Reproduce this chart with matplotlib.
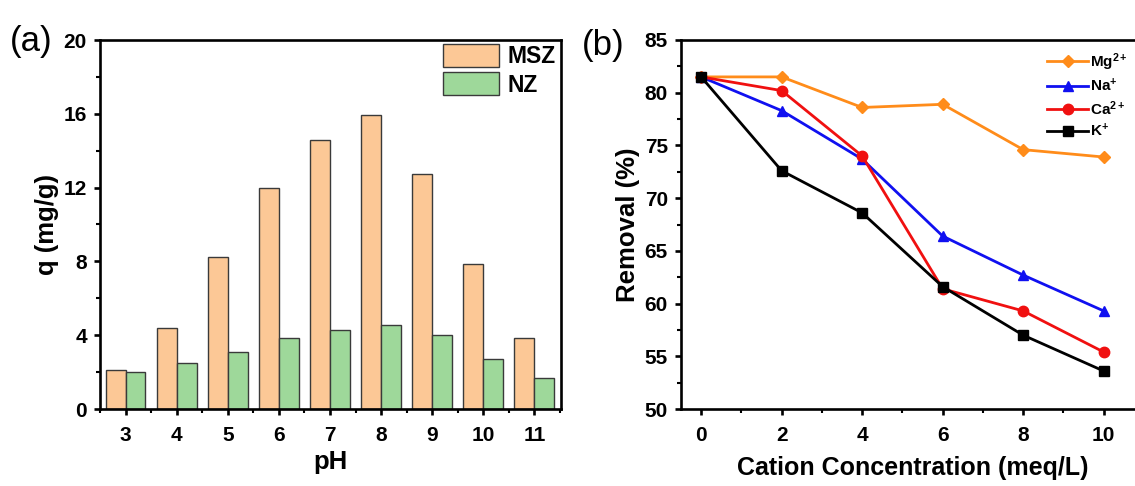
import matplotlib
matplotlib.use("Agg")
import matplotlib.pyplot as plt
import numpy as np
from matplotlib.ticker import MultipleLocator

plt.rcParams['font.family'] = ['Liberation Sans', 'DejaVu Sans']
plt.rcParams['font.weight'] = 'bold'
plt.rcParams['mathtext.fontset'] = 'custom'
plt.rcParams['mathtext.rm'] = 'Liberation Sans:bold'
plt.rcParams['mathtext.bf'] = 'Liberation Sans:bold'
plt.rcParams['mathtext.it'] = 'Liberation Sans:bold'

# Panel (a) data
ph = [3, 4, 5, 6, 7, 8, 9, 10, 11]
q_msz = [2.1, 4.4, 8.25, 12.0, 14.6, 15.95, 12.75, 7.85, 3.85]
q_nz = [2.0, 2.5, 3.1, 3.85, 4.3, 4.55, 4.0, 2.7, 1.7]

# Panel (b) data
conc = [0, 2, 4, 6, 8, 10]
mg = [81.5, 81.5, 78.6, 78.9, 74.6, 73.9]
na = [81.5, 78.3, 73.7, 66.4, 62.7, 59.3]
ca = [81.5, 80.2, 74.0, 61.4, 59.3, 55.4]
k = [81.5, 72.6, 68.6, 61.6, 57.0, 53.6]

W, H = 1135, 486
fig = plt.figure(figsize=(W / 100, H / 100), dpi=100)

TICK_FS = 15
LABEL_FS = 18.5

def style_axes(ax):
    for s in ax.spines.values():
        s.set_linewidth(1.9)
    ax.tick_params(which='major', direction='out', length=4.5, width=1.9, labelsize=TICK_FS)
    ax.tick_params(axis='x', which='major', pad=7.5)
    ax.tick_params(axis='y', which='major', pad=5)
    ax.tick_params(which='minor', direction='out', length=2.8, width=1.5)
    ax.tick_params(axis='both', which='both', top=False, right=False)

# ---- Panel (a)
ax1 = fig.add_axes([100 / W, 1 - 409 / H, 461 / W, 369 / H])
x = np.array(ph, dtype=float)
w = 0.39
ax1.bar(x - w/2, q_msz, width=w, color='#FCC896', edgecolor='#3a3a3a', linewidth=1.0, label='MSZ')
ax1.bar(x + w/2, q_nz, width=w, color='#9ED89A', edgecolor='#3a3a3a', linewidth=1.0, label='NZ')
ax1.set_xlim(2.5, 11.52)
ax1.set_ylim(0, 20)
ax1.set_xticks(ph)
ax1.xaxis.set_minor_locator(MultipleLocator(0.5))
ax1.yaxis.set_major_locator(MultipleLocator(4))
ax1.yaxis.set_minor_locator(MultipleLocator(2))
style_axes(ax1)
ax1.set_xlabel('pH', fontsize=LABEL_FS, fontweight='bold', labelpad=4)
ax1.set_ylabel('q (mg/g)', fontsize=LABEL_FS, fontweight='bold', labelpad=3)
ax1.legend(loc='upper left', bbox_to_anchor=(443 / W, 1 - 44 / H), bbox_transform=fig.transFigure,
           fontsize=16.5, frameon=False, handlelength=2.45, handleheight=1.18,
           handletextpad=0.35, labelspacing=0.17, borderaxespad=0, borderpad=0)
fig.text(10 / W, 1 - 41 / H, '(a)', fontsize=25, fontweight='normal', va='center', ha='left')

# ---- Panel (b)
ax2 = fig.add_axes([681 / W, 1 - 409 / H, 463 / W, 369 / H])
ax2.plot(conc, mg, color='#FF8C1A', marker='D', markersize=6.5, linewidth=2, label='Mg$^{2+}$')
ax2.plot(conc, na, color='#1010F0', marker='^', markersize=7.5, linewidth=2, label='Na$^{+}$')
ax2.plot(conc, ca, color='#F01010', marker='o', markersize=7.5, linewidth=2, label='Ca$^{2+}$')
ax2.plot(conc, k, color='#000000', marker='s', markersize=6.5, linewidth=2, label='K$^{+}$')
ax2.set_xlim(-0.5, 11)
ax2.set_ylim(50, 85)
ax2.set_xticks(conc)
ax2.xaxis.set_minor_locator(MultipleLocator(1))
ax2.yaxis.set_major_locator(MultipleLocator(5))
ax2.yaxis.set_minor_locator(MultipleLocator(2.5))
style_axes(ax2)
ax2.set_xlabel('Cation Concentration (meq/L)', fontsize=18, fontweight='bold', labelpad=8)
ax2.set_ylabel('Removal (%)', fontsize=LABEL_FS, fontweight='bold', labelpad=3)
ax2.legend(loc='upper left', bbox_to_anchor=(1047 / W, 1 - 51 / H), bbox_transform=fig.transFigure,
           fontsize=11, frameon=False, handlelength=2.7,
           handletextpad=0.1, labelspacing=0.3, borderaxespad=0, borderpad=0)
fig.text(582 / W, 1 - 45 / H, '(b)', fontsize=25, fontweight='normal', va='center', ha='left')

fig.savefig('out.png', dpi=100)
